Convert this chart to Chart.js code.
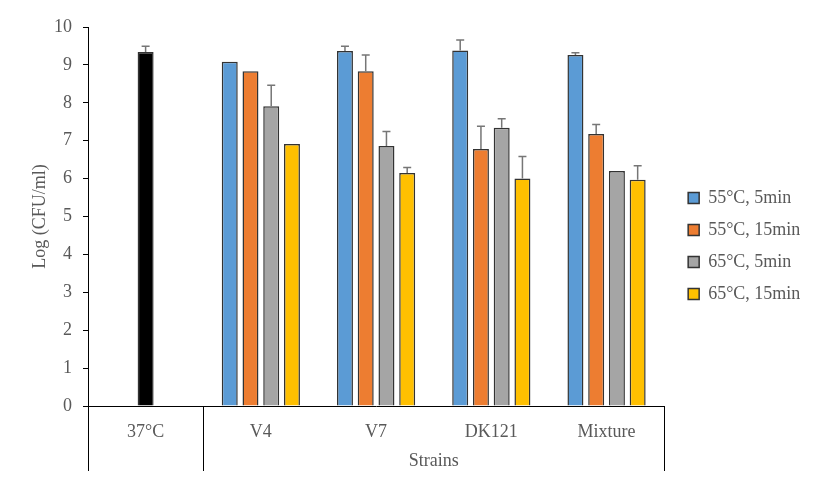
<!DOCTYPE html>
<html lang="en">
<head>
    <meta charset="UTF-8">
    <title>Log (CFU/ml) by strain</title>
    <script src="https://cdn.jsdelivr.net/npm/chart.js"></script>
    <style>
        html, body { margin: 0; padding: 0; background: #fff; }
        #wrap { width: 827px; height: 492px; }
    </style>
</head>
<body>
    <div id="wrap"><canvas id="chart"></canvas></div>
    <script>
        // Data
        const categories = ['37°C', 'V4', 'V7', 'DK121', 'Mixture'];
        const groupLabel = 'Strains';
        const yTicks = [0, 1, 2, 3, 4, 5, 6, 7, 8, 9, 10];

        const control37 = [9.34, null, null, null, null];
        const control37Err = [0.15, 0, 0, 0, 0];

        const t55_5 = [null, 9.08, 9.37, 9.38, 9.26];
        const t55_5Err = [0, 0, 0.12, 0.28, 0.06];

        const t55_15 = [null, 8.83, 8.83, 6.78, 7.18];
        const t55_15Err = [0, 0, 0.43, 0.60, 0.25];

        const t65_5 = [null, 7.91, 6.86, 7.34, 6.20];
        const t65_5Err = [0, 0.55, 0.38, 0.24, 0];

        const t65_15 = [null, 6.91, 6.15, 6.00, 5.97];
        const t65_15Err = [0, 0, 0.14, 0.58, 0.37];

        const fontFamily = '"Liberation Serif", "Times New Roman", serif';
        const textColor = '#595959';

        function series(label, data, errors, color) {
            return {
                label: label,
                data: data,
                errors: errors,
                backgroundColor: color,
                borderColor: '#333333',
                borderWidth: 1.5,
                skipNull: true,
                categoryPercentage: 0.72,
                barPercentage: 0.77,
                maxBarThickness: 16
            };
        }

        // Upper error bars with caps
        const errorBars = {
            id: 'errorBars',
            afterDatasetsDraw(chart) {
                const ctx = chart.ctx;
                const y = chart.scales.y;
                ctx.save();
                ctx.strokeStyle = '#767676';
                ctx.lineWidth = 1.5;
                chart.data.datasets.forEach((ds, di) => {
                    const meta = chart.getDatasetMeta(di);
                    meta.data.forEach((bar, i) => {
                        const v = ds.data[i];
                        const e = ds.errors[i];
                        if (v === null || !e) return;
                        const top = y.getPixelForValue(v + e);
                        ctx.beginPath();
                        ctx.moveTo(bar.x, bar.y);
                        ctx.lineTo(bar.x, top);
                        ctx.moveTo(bar.x - 4, top);
                        ctx.lineTo(bar.x + 4, top);
                        ctx.stroke();
                    });
                });
                ctx.restore();
            }
        };

        // Two-level category axis: divider lines and the "Strains" group label
        const groupAxis = {
            id: 'groupAxis',
            afterDraw(chart) {
                const ctx = chart.ctx;
                const x = chart.scales.x;
                const area = chart.chartArea;
                const split = (x.getPixelForValue(0) + x.getPixelForValue(1)) / 2;
                ctx.save();
                ctx.strokeStyle = '#000';
                ctx.lineWidth = 1;
                [area.left, split, area.right].forEach(px => {
                    ctx.beginPath();
                    ctx.moveTo(Math.round(px) + 0.5, area.bottom);
                    ctx.lineTo(Math.round(px) + 0.5, area.bottom + 65);
                    ctx.stroke();
                });
                ctx.fillStyle = textColor;
                ctx.font = '18px ' + fontFamily;
                ctx.textAlign = 'center';
                ctx.textBaseline = 'middle';
                ctx.fillText(groupLabel, (split + area.right) / 2, area.bottom + 55);
                ctx.restore();
            }
        };

        new Chart(document.getElementById('chart'), {
            type: 'bar',
            data: {
                labels: categories,
                datasets: [
                    series('37°C', control37, control37Err, '#000000'),
                    series('55°C, 5min', t55_5, t55_5Err, '#5B9BD5'),
                    series('55°C, 15min', t55_15, t55_15Err, '#ED7D31'),
                    series('65°C, 5min', t65_5, t65_5Err, '#A5A5A5'),
                    series('65°C, 15min', t65_15, t65_15Err, '#FFC000')
                ]
            },
            options: {
                responsive: true,
                maintainAspectRatio: false,
                devicePixelRatio: 1,
                animation: false,
                layout: { padding: { left: 0, right: 18, top: 0, bottom: 0 } },
                plugins: {
                    title: {
                        display: true,
                        text: '',
                        fullSize: false,
                        font: { size: 12, lineHeight: 1 },
                        padding: { top: 15, bottom: 0 }
                    },
                    legend: {
                        position: 'right',
                        align: 'center',
                        labels: {
                            filter: item => item.datasetIndex > 0,
                            boxWidth: 11,
                            boxHeight: 11,
                            padding: 14,
                            color: textColor,
                            font: { family: fontFamily, size: 18 }
                        }
                    },
                    tooltip: { enabled: false }
                },
                scales: {
                    x: {
                        grid: { display: false },
                        border: { color: '#000', width: 1 },
                        ticks: {
                            color: textColor,
                            font: { family: fontFamily, size: 18 },
                            padding: 7,
                            maxRotation: 0,
                            autoSkip: false
                        },
                        afterFit: scale => { scale.height = 86; }
                    },
                    y: {
                        min: 0,
                        max: 10,
                        afterBuildTicks: scale => {
                            scale.ticks = yTicks.map(v => ({ value: v }));
                        },
                        grid: {
                            drawOnChartArea: false,
                            drawTicks: true,
                            tickLength: 5,
                            color: '#000'
                        },
                        border: { color: '#000', width: 1 },
                        ticks: {
                            color: textColor,
                            font: { family: fontFamily, size: 18 },
                            padding: 11
                        },
                        title: {
                            display: true,
                            text: 'Log (CFU/ml)',
                            color: textColor,
                            font: { family: fontFamily, size: 18 },
                            padding: { top: 29, bottom: 0 }
                        },
                        afterFit: scale => { scale.width = 88; }
                    },
                    gap: {
                        position: 'right',
                        display: true,
                        grid: { display: false },
                        border: { display: false },
                        ticks: { display: false },
                        afterFit: scale => { scale.width = 10; }
                    }
                }
            },
            plugins: [errorBars, groupAxis]
        });
    </script>
</body>
</html>
